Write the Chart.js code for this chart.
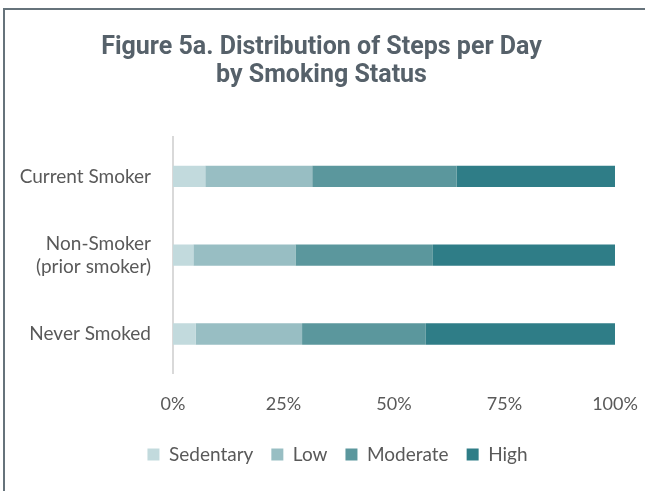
<!DOCTYPE html>
<html lang="en">
<head>
    <meta charset="UTF-8">
    <title>Figure 5a</title>
    <script src="https://cdn.jsdelivr.net/npm/chart.js"></script>
    <style>
        body { margin: 0; background: #fff; }
        #wrap { position: relative; width: 645px; height: 491px; overflow: hidden; }
        #frame { position: absolute; left: 3px; top: 8px; width: 700px; height: 600px;
                 border-left: 2px solid #66737b; border-top: 2px solid #66737b; }
        #myChart { position: absolute; left: 0; top: 0; }
    </style>
</head>
<body>
    <div id="wrap">
        <div id="frame"></div>
        <canvas id="myChart" width="645" height="491"></canvas>
    </div>
    <script>
        // data (percent of group)
        const groups = ['Current Smoker', ['Non-Smoker', '(prior smoker)'], 'Never Smoked'];
        const sedentary = [7.3, 4.6, 5.1];
        const low = [24.2, 23.1, 24.1];
        const moderate = [32.7, 31.1, 28.0];
        const high = [35.8, 41.2, 42.8];
        const xTicks = [0, 25, 50, 75, 100];

        const textFont = "Lato, 'Open Sans', sans-serif";

        function bar(label, values, color) {
            return {
                label: label,
                data: values,
                backgroundColor: color,
                borderWidth: 0,
                barPercentage: 0.54,
                categoryPercentage: 0.5
            };
        }

        // legend sits a bit right of centre in the original
        const legendShift = {
            id: 'legendShift',
            afterLayout: function(chart) {
                chart.legend.left += 16;
                chart.legend.right += 16;
            }
        };

        const config = {
            type: 'bar',
            data: {
                labels: groups,
                datasets: [
                    bar('Sedentary', sedentary, '#c2dadd'),
                    bar('Low', low, '#98bec3'),
                    bar('Moderate', moderate, '#5b979d'),
                    bar('High', high, '#2f7d87')
                ]
            },
            plugins: [legendShift],
            options: {
                indexAxis: 'y',
                responsive: false,
                animation: false,
                layout: { padding: { left: 8, right: 10, top: 0, bottom: 17 } },
                plugins: {
                    title: {
                        display: true,
                        text: ['Figure 5a. Distribution of Steps per Day', 'by Smoking Status'],
                        color: '#56616a',
                        font: { family: 'Roboto, sans-serif', size: 25, weight: 'bold', lineHeight: 1.12 },
                        padding: { top: 34, bottom: 47 }
                    },
                    legend: {
                        position: 'bottom',
                        labels: {
                            boxWidth: 12,
                            boxHeight: 12,
                            padding: 18,
                            color: '#595959',
                            font: { family: textFont, size: 19 }
                        }
                    },
                    tooltip: { enabled: false }
                },
                scales: {
                    x: {
                        stacked: true,
                        min: 0,
                        max: 100,
                        afterBuildTicks: function(scale) {
                            scale.ticks = xTicks.map(v => ({ value: v }));
                        },
                        afterFit: function(scale) { scale.paddingRight = 30; },
                        grid: { display: false },
                        border: { display: false },
                        ticks: {
                            color: '#595959',
                            padding: 12,
                            font: { family: textFont, size: 18 },
                            callback: v => v + '%'
                        }
                    },
                    y: {
                        stacked: true,
                        afterFit: function(scale) { scale.width = 165; },
                        grid: { display: false },
                        border: { display: true, color: '#d9d9d9', width: 2 },
                        ticks: {
                            color: '#595959',
                            padding: 14,
                            font: { family: textFont, size: 19 }
                        }
                    }
                }
            }
        };

        window.onload = function() {
            const ctx = document.getElementById('myChart').getContext('2d');
            new Chart(ctx, config);
        };
    </script>
</body>
</html>
